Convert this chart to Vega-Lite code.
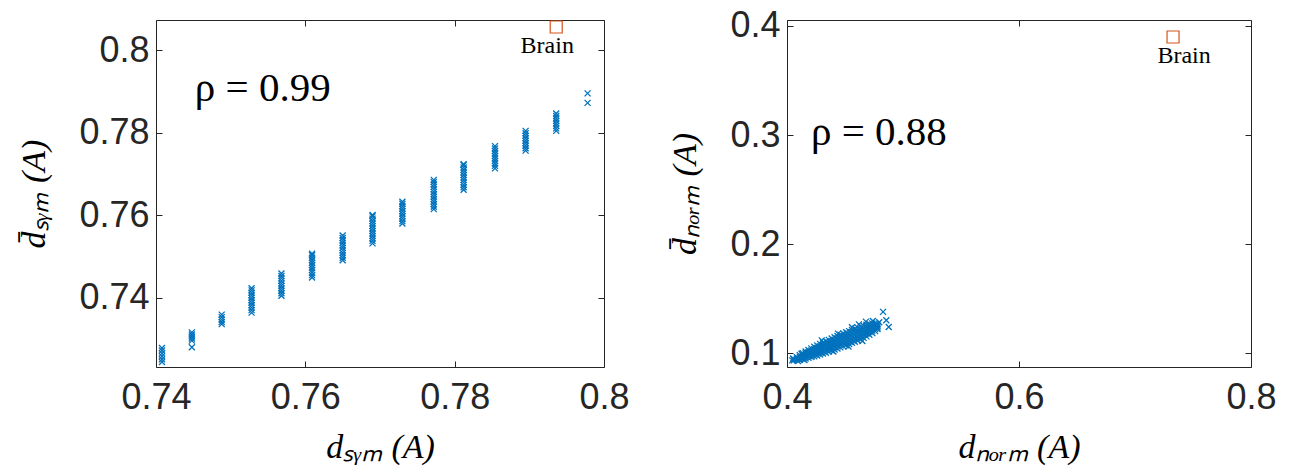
{
  "$schema": "https://vega.github.io/schema/vega-lite/v6.json",
  "autosize": {"type": "pad"},
  "padding": {"left": 17, "top": 7, "right": 0, "bottom": 0},
  "background": "white",
  "config": {
    "view": {"stroke": "#262626", "strokeWidth": 1},
    "axis": {
      "domain": false, "grid": false, "labelFlush": false, "labelOverlap": false,
      "tickColor": "#262626", "tickSize": -6, "tickWidth": 1,
      "labelFont": "Liberation Sans", "labelFontSize": 36, "labelColor": "#262626",
      "titleFont": "Liberation Serif", "titleFontStyle": "italic", "titleFontWeight": "normal",
      "titleFontSize": 34, "titleColor": "#000000"
    },
    "axisBottom": {"labelPadding": 19, "titlePadding": 15},
    "axisLeft": {"labelPadding": 13, "titlePadding": 27}
  },
  "datasets": {
    "leftPts": [
      {"x": 0.7408, "y": 0.7244}, {"x": 0.7408, "y": 0.7251}, {"x": 0.7408, "y": 0.7258}, {"x": 0.7408, "y": 0.7265}, {"x": 0.7408, "y": 0.7272}, {"x": 0.7408, "y": 0.7278},
      {"x": 0.7448, "y": 0.7280}, {"x": 0.7448, "y": 0.7296}, {"x": 0.7448, "y": 0.7301}, {"x": 0.7448, "y": 0.7306}, {"x": 0.7448, "y": 0.7311}, {"x": 0.7448, "y": 0.7316},
      {"x": 0.7488, "y": 0.7336}, {"x": 0.7488, "y": 0.7341}, {"x": 0.7488, "y": 0.7347}, {"x": 0.7488, "y": 0.7353}, {"x": 0.7488, "y": 0.7359},
      {"x": 0.7528, "y": 0.7364}, {"x": 0.7528, "y": 0.7370}, {"x": 0.7528, "y": 0.7376}, {"x": 0.7528, "y": 0.7382}, {"x": 0.7528, "y": 0.7388}, {"x": 0.7528, "y": 0.7394}, {"x": 0.7528, "y": 0.7400}, {"x": 0.7528, "y": 0.7406}, {"x": 0.7528, "y": 0.7412}, {"x": 0.7528, "y": 0.7418}, {"x": 0.7528, "y": 0.7423},
      {"x": 0.7568, "y": 0.7405}, {"x": 0.7568, "y": 0.7411}, {"x": 0.7568, "y": 0.7417}, {"x": 0.7568, "y": 0.7423}, {"x": 0.7568, "y": 0.7429}, {"x": 0.7568, "y": 0.7435}, {"x": 0.7568, "y": 0.7441}, {"x": 0.7568, "y": 0.7447}, {"x": 0.7568, "y": 0.7453}, {"x": 0.7568, "y": 0.7459},
      {"x": 0.7609, "y": 0.7449}, {"x": 0.7609, "y": 0.7455}, {"x": 0.7609, "y": 0.7461}, {"x": 0.7609, "y": 0.7467}, {"x": 0.7609, "y": 0.7473}, {"x": 0.7609, "y": 0.7479}, {"x": 0.7609, "y": 0.7485}, {"x": 0.7609, "y": 0.7491}, {"x": 0.7609, "y": 0.7497}, {"x": 0.7609, "y": 0.7503}, {"x": 0.7609, "y": 0.7507},
      {"x": 0.7650, "y": 0.7491}, {"x": 0.7650, "y": 0.7497}, {"x": 0.7650, "y": 0.7503}, {"x": 0.7650, "y": 0.7509}, {"x": 0.7650, "y": 0.7515}, {"x": 0.7650, "y": 0.7521}, {"x": 0.7650, "y": 0.7527}, {"x": 0.7650, "y": 0.7533}, {"x": 0.7650, "y": 0.7539}, {"x": 0.7650, "y": 0.7545}, {"x": 0.7650, "y": 0.7551},
      {"x": 0.7690, "y": 0.7532}, {"x": 0.7690, "y": 0.7538}, {"x": 0.7690, "y": 0.7544}, {"x": 0.7690, "y": 0.7550}, {"x": 0.7690, "y": 0.7556}, {"x": 0.7690, "y": 0.7562}, {"x": 0.7690, "y": 0.7568}, {"x": 0.7690, "y": 0.7574}, {"x": 0.7690, "y": 0.7580}, {"x": 0.7690, "y": 0.7586}, {"x": 0.7690, "y": 0.7592}, {"x": 0.7690, "y": 0.7598}, {"x": 0.7690, "y": 0.7601},
      {"x": 0.7730, "y": 0.7580}, {"x": 0.7730, "y": 0.7586}, {"x": 0.7730, "y": 0.7592}, {"x": 0.7730, "y": 0.7598}, {"x": 0.7730, "y": 0.7604}, {"x": 0.7730, "y": 0.7610}, {"x": 0.7730, "y": 0.7616}, {"x": 0.7730, "y": 0.7622}, {"x": 0.7730, "y": 0.7628}, {"x": 0.7730, "y": 0.7633},
      {"x": 0.7772, "y": 0.7615}, {"x": 0.7772, "y": 0.7621}, {"x": 0.7772, "y": 0.7627}, {"x": 0.7772, "y": 0.7633}, {"x": 0.7772, "y": 0.7639}, {"x": 0.7772, "y": 0.7645}, {"x": 0.7772, "y": 0.7651}, {"x": 0.7772, "y": 0.7657}, {"x": 0.7772, "y": 0.7663}, {"x": 0.7772, "y": 0.7669}, {"x": 0.7772, "y": 0.7675}, {"x": 0.7772, "y": 0.7681}, {"x": 0.7772, "y": 0.7686},
      {"x": 0.7812, "y": 0.7662}, {"x": 0.7812, "y": 0.7668}, {"x": 0.7812, "y": 0.7674}, {"x": 0.7812, "y": 0.7680}, {"x": 0.7812, "y": 0.7686}, {"x": 0.7812, "y": 0.7692}, {"x": 0.7812, "y": 0.7698}, {"x": 0.7812, "y": 0.7704}, {"x": 0.7812, "y": 0.7710}, {"x": 0.7812, "y": 0.7716}, {"x": 0.7812, "y": 0.7722}, {"x": 0.7812, "y": 0.7724},
      {"x": 0.7854, "y": 0.7714}, {"x": 0.7854, "y": 0.7720}, {"x": 0.7854, "y": 0.7726}, {"x": 0.7854, "y": 0.7732}, {"x": 0.7854, "y": 0.7738}, {"x": 0.7854, "y": 0.7744}, {"x": 0.7854, "y": 0.7750}, {"x": 0.7854, "y": 0.7756}, {"x": 0.7854, "y": 0.7762}, {"x": 0.7854, "y": 0.7768},
      {"x": 0.7895, "y": 0.7757}, {"x": 0.7895, "y": 0.7763}, {"x": 0.7895, "y": 0.7769}, {"x": 0.7895, "y": 0.7775}, {"x": 0.7895, "y": 0.7781}, {"x": 0.7895, "y": 0.7787}, {"x": 0.7895, "y": 0.7793}, {"x": 0.7895, "y": 0.7799}, {"x": 0.7895, "y": 0.7805},
      {"x": 0.7936, "y": 0.7805}, {"x": 0.7936, "y": 0.7811}, {"x": 0.7936, "y": 0.7817}, {"x": 0.7936, "y": 0.7823}, {"x": 0.7936, "y": 0.7829}, {"x": 0.7936, "y": 0.7835}, {"x": 0.7936, "y": 0.7841}, {"x": 0.7936, "y": 0.7847},
      {"x": 0.7978, "y": 0.7873}, {"x": 0.7978, "y": 0.7896}
    ],
    "leftBrain": [{"x": 0.7936, "y": 0.8057, "label": "Brain"}],
    "leftRho": [{"x": 0.7452, "y": 0.7877, "label": "ρ = 0.99"}],
    "rightPts": [
      {"x": 0.4045, "y": 0.0935}, {"x": 0.4052, "y": 0.0952}, {"x": 0.4095, "y": 0.0928}, {"x": 0.4125, "y": 0.0995}, {"x": 0.4150, "y": 0.0938},
      {"x": 0.406, "y": 0.0935}, {"x": 0.406, "y": 0.0945},
      {"x": 0.4085, "y": 0.0937}, {"x": 0.4085, "y": 0.0949}, {"x": 0.4085, "y": 0.0964},
      {"x": 0.411, "y": 0.0941}, {"x": 0.411, "y": 0.0955}, {"x": 0.411, "y": 0.0968}, {"x": 0.411, "y": 0.0983},
      {"x": 0.4135, "y": 0.0946}, {"x": 0.4135, "y": 0.0962}, {"x": 0.4135, "y": 0.0975}, {"x": 0.4135, "y": 0.0988}, {"x": 0.4135, "y": 0.1001},
      {"x": 0.416, "y": 0.0952}, {"x": 0.416, "y": 0.0969}, {"x": 0.416, "y": 0.0985}, {"x": 0.416, "y": 0.1001}, {"x": 0.416, "y": 0.1016},
      {"x": 0.4185, "y": 0.0958}, {"x": 0.4185, "y": 0.0976}, {"x": 0.4185, "y": 0.0995}, {"x": 0.4185, "y": 0.1012}, {"x": 0.4185, "y": 0.1030},
      {"x": 0.421, "y": 0.0965}, {"x": 0.421, "y": 0.0985}, {"x": 0.421, "y": 0.1004}, {"x": 0.421, "y": 0.1025}, {"x": 0.421, "y": 0.1045},
      {"x": 0.4235, "y": 0.0973}, {"x": 0.4235, "y": 0.0994}, {"x": 0.4235, "y": 0.1017}, {"x": 0.4235, "y": 0.1038}, {"x": 0.4235, "y": 0.1059},
      {"x": 0.426, "y": 0.0980}, {"x": 0.426, "y": 0.1003}, {"x": 0.426, "y": 0.1027}, {"x": 0.426, "y": 0.1049}, {"x": 0.426, "y": 0.1072},
      {"x": 0.4285, "y": 0.0988}, {"x": 0.4285, "y": 0.1012}, {"x": 0.4285, "y": 0.1037}, {"x": 0.4285, "y": 0.1062}, {"x": 0.4285, "y": 0.1086},
      {"x": 0.431, "y": 0.0997}, {"x": 0.431, "y": 0.1022}, {"x": 0.431, "y": 0.1049}, {"x": 0.431, "y": 0.1074}, {"x": 0.431, "y": 0.1099},
      {"x": 0.4335, "y": 0.1005}, {"x": 0.4335, "y": 0.1031}, {"x": 0.4335, "y": 0.1058}, {"x": 0.4335, "y": 0.1084}, {"x": 0.4335, "y": 0.1111},
      {"x": 0.436, "y": 0.1015}, {"x": 0.436, "y": 0.1042}, {"x": 0.436, "y": 0.1069}, {"x": 0.436, "y": 0.1096}, {"x": 0.436, "y": 0.1123},
      {"x": 0.4385, "y": 0.1025}, {"x": 0.4385, "y": 0.1052}, {"x": 0.4385, "y": 0.1081}, {"x": 0.4385, "y": 0.1108}, {"x": 0.4385, "y": 0.1135},
      {"x": 0.441, "y": 0.1034}, {"x": 0.441, "y": 0.1062}, {"x": 0.441, "y": 0.1091}, {"x": 0.441, "y": 0.1118}, {"x": 0.441, "y": 0.1146},
      {"x": 0.4435, "y": 0.1044}, {"x": 0.4435, "y": 0.1072}, {"x": 0.4435, "y": 0.1100}, {"x": 0.4435, "y": 0.1130}, {"x": 0.4435, "y": 0.1158},
      {"x": 0.446, "y": 0.1054}, {"x": 0.446, "y": 0.1083}, {"x": 0.446, "y": 0.1112}, {"x": 0.446, "y": 0.1141}, {"x": 0.446, "y": 0.1170},
      {"x": 0.4485, "y": 0.1063}, {"x": 0.4485, "y": 0.1093}, {"x": 0.4485, "y": 0.1123}, {"x": 0.4485, "y": 0.1151}, {"x": 0.4485, "y": 0.1181},
      {"x": 0.451, "y": 0.1074}, {"x": 0.451, "y": 0.1103}, {"x": 0.451, "y": 0.1133}, {"x": 0.451, "y": 0.1163}, {"x": 0.451, "y": 0.1192},
      {"x": 0.4535, "y": 0.1085}, {"x": 0.4535, "y": 0.1114}, {"x": 0.4535, "y": 0.1144}, {"x": 0.4535, "y": 0.1173}, {"x": 0.4535, "y": 0.1203},
      {"x": 0.456, "y": 0.1096}, {"x": 0.456, "y": 0.1125}, {"x": 0.456, "y": 0.1155}, {"x": 0.456, "y": 0.1185}, {"x": 0.456, "y": 0.1214},
      {"x": 0.4585, "y": 0.1106}, {"x": 0.4585, "y": 0.1136}, {"x": 0.4585, "y": 0.1166}, {"x": 0.4585, "y": 0.1195}, {"x": 0.4585, "y": 0.1224},
      {"x": 0.461, "y": 0.1117}, {"x": 0.461, "y": 0.1146}, {"x": 0.461, "y": 0.1176}, {"x": 0.461, "y": 0.1206}, {"x": 0.461, "y": 0.1235},
      {"x": 0.4635, "y": 0.1129}, {"x": 0.4635, "y": 0.1158}, {"x": 0.4635, "y": 0.1187}, {"x": 0.4635, "y": 0.1216}, {"x": 0.4635, "y": 0.1245},
      {"x": 0.466, "y": 0.1141}, {"x": 0.466, "y": 0.1169}, {"x": 0.466, "y": 0.1198}, {"x": 0.466, "y": 0.1225}, {"x": 0.466, "y": 0.1253},
      {"x": 0.4685, "y": 0.1155}, {"x": 0.4685, "y": 0.1181}, {"x": 0.4685, "y": 0.1208}, {"x": 0.4685, "y": 0.1235}, {"x": 0.4685, "y": 0.1261}, {"x": 0.468, "y": 0.1290},
      {"x": 0.471, "y": 0.1170}, {"x": 0.471, "y": 0.1194}, {"x": 0.471, "y": 0.1219}, {"x": 0.471, "y": 0.1244}, {"x": 0.471, "y": 0.1268},
      {"x": 0.4735, "y": 0.1186}, {"x": 0.4735, "y": 0.1208}, {"x": 0.4735, "y": 0.1230}, {"x": 0.4735, "y": 0.1252}, {"x": 0.4735, "y": 0.1274}, {"x": 0.474, "y": 0.1295},
      {"x": 0.476, "y": 0.1203}, {"x": 0.476, "y": 0.1222}, {"x": 0.476, "y": 0.1241}, {"x": 0.476, "y": 0.1260}, {"x": 0.476, "y": 0.1277},
      {"x": 0.478, "y": 0.1222}, {"x": 0.478, "y": 0.1236}, {"x": 0.478, "y": 0.1250}, {"x": 0.478, "y": 0.1264},
      {"x": 0.4795, "y": 0.1285}, {"x": 0.4828, "y": 0.1379}, {"x": 0.4856, "y": 0.1303}, {"x": 0.4877, "y": 0.1241},
      {"x": 0.4300, "y": 0.1118}, {"x": 0.4440, "y": 0.1180}, {"x": 0.4560, "y": 0.1238}, {"x": 0.4620, "y": 0.1265}, {"x": 0.4400, "y": 0.1016}, {"x": 0.4530, "y": 0.1062}, {"x": 0.4650, "y": 0.1112}
    ],
    "rightBrain": [{"x": 0.7328, "y": 0.3899, "label": "Brain"}],
    "rightRho": [{"x": 0.4207, "y": 0.2908, "label": "ρ = 0.88"}]
  },
  "hconcat": [
    {
      "width": 448, "height": 347,
      "resolve": {"axis": {"x": "independent", "y": "independent"}},
      "layer": [
        {
          "data": {"name": "leftPts"},
          "mark": {"type": "point", "shape": "M-1,-1L1,1M-1,1L1,-1", "size": 36, "filled": false, "color": "#0072BD", "strokeWidth": 1.3, "opacity": 1},
          "encoding": {
            "x": {"field": "x", "type": "quantitative", "scale": {"domain": [0.74, 0.8], "nice": false, "zero": false},
                  "axis": {"values": [0.74, 0.76, 0.78, 0.8], "format": ".2~f", "title": "dₛᵧₘ (A)"}},
            "y": {"field": "y", "type": "quantitative", "scale": {"domain": [0.7232, 0.8074], "nice": false, "zero": false},
                  "axis": {"values": [0.74, 0.76, 0.78, 0.8], "format": ".2~f", "title": "d̄ₛᵧₘ (A)"}}
          }
        },
        {
          "data": {"name": "leftBrain"},
          "mark": {"type": "point", "shape": "square", "size": 144, "filled": false, "color": "#D95319", "strokeWidth": 1.2, "opacity": 1},
          "encoding": {
            "x": {"field": "x", "type": "quantitative", "scale": {"domain": [0.74, 0.8], "nice": false, "zero": false}, "axis": null},
            "y": {"field": "y", "type": "quantitative", "scale": {"domain": [0.7232, 0.8074], "nice": false, "zero": false}, "axis": null}
          }
        },
        {
          "data": {"name": "leftBrain"},
          "mark": {"type": "text", "font": "Liberation Serif", "fontSize": 24, "color": "#000000", "align": "center", "baseline": "alphabetic", "dx": -9, "dy": 26},
          "encoding": {
            "x": {"field": "x", "type": "quantitative", "scale": {"domain": [0.74, 0.8], "nice": false, "zero": false}, "axis": null},
            "y": {"field": "y", "type": "quantitative", "scale": {"domain": [0.7232, 0.8074], "nice": false, "zero": false}, "axis": null},
            "text": {"field": "label"}
          }
        },
        {
          "data": {"name": "leftRho"},
          "mark": {"type": "text", "font": "Liberation Serif", "fontSize": 41, "color": "#000000", "align": "left", "baseline": "alphabetic"},
          "encoding": {
            "x": {"field": "x", "type": "quantitative", "scale": {"domain": [0.74, 0.8], "nice": false, "zero": false}, "axis": null},
            "y": {"field": "y", "type": "quantitative", "scale": {"domain": [0.7232, 0.8074], "nice": false, "zero": false}, "axis": null},
            "text": {"field": "label"}
          }
        },
        {
          "data": {"name": "leftBrain"},
          "mark": {"type": "point", "opacity": 0},
          "encoding": {
            "x": {"field": "x", "type": "quantitative", "scale": {"domain": [0.74, 0.8], "nice": false, "zero": false},
                  "axis": {"orient": "top", "values": [0.74, 0.76, 0.78, 0.8], "labels": false, "title": null}},
            "y": {"field": "y", "type": "quantitative", "scale": {"domain": [0.7232, 0.8074], "nice": false, "zero": false},
                  "axis": {"orient": "right", "values": [0.74, 0.76, 0.78, 0.8], "labels": false, "title": null}}
          }
        }
      ]
    },
    {
      "width": 464, "height": 347,
      "resolve": {"axis": {"x": "independent", "y": "independent"}},
      "layer": [
        {
          "data": {"name": "rightPts"},
          "mark": {"type": "point", "shape": "M-1,-1L1,1M-1,1L1,-1", "size": 36, "filled": false, "color": "#0072BD", "strokeWidth": 1.3, "opacity": 1},
          "encoding": {
            "x": {"field": "x", "type": "quantitative", "scale": {"domain": [0.4, 0.8], "nice": false, "zero": false},
                  "axis": {"values": [0.4, 0.6, 0.8], "format": ".1f", "title": "dₙₒᵣₘ (A)"}},
            "y": {"field": "y", "type": "quantitative", "scale": {"domain": [0.0874, 0.4055], "nice": false, "zero": false},
                  "axis": {"values": [0.1, 0.2, 0.3, 0.4], "format": ".1f", "title": "d̄ₙₒᵣₘ (A)"}}
          }
        },
        {
          "data": {"name": "rightBrain"},
          "mark": {"type": "point", "shape": "square", "size": 144, "filled": false, "color": "#D95319", "strokeWidth": 1.2, "opacity": 1},
          "encoding": {
            "x": {"field": "x", "type": "quantitative", "scale": {"domain": [0.4, 0.8], "nice": false, "zero": false}, "axis": null},
            "y": {"field": "y", "type": "quantitative", "scale": {"domain": [0.0874, 0.4055], "nice": false, "zero": false}, "axis": null}
          }
        },
        {
          "data": {"name": "rightBrain"},
          "mark": {"type": "text", "font": "Liberation Serif", "fontSize": 24, "color": "#000000", "align": "center", "baseline": "alphabetic", "dx": 11, "dy": 26},
          "encoding": {
            "x": {"field": "x", "type": "quantitative", "scale": {"domain": [0.4, 0.8], "nice": false, "zero": false}, "axis": null},
            "y": {"field": "y", "type": "quantitative", "scale": {"domain": [0.0874, 0.4055], "nice": false, "zero": false}, "axis": null},
            "text": {"field": "label"}
          }
        },
        {
          "data": {"name": "rightRho"},
          "mark": {"type": "text", "font": "Liberation Serif", "fontSize": 41, "color": "#000000", "align": "left", "baseline": "alphabetic"},
          "encoding": {
            "x": {"field": "x", "type": "quantitative", "scale": {"domain": [0.4, 0.8], "nice": false, "zero": false}, "axis": null},
            "y": {"field": "y", "type": "quantitative", "scale": {"domain": [0.0874, 0.4055], "nice": false, "zero": false}, "axis": null},
            "text": {"field": "label"}
          }
        },
        {
          "data": {"name": "rightBrain"},
          "mark": {"type": "point", "opacity": 0},
          "encoding": {
            "x": {"field": "x", "type": "quantitative", "scale": {"domain": [0.4, 0.8], "nice": false, "zero": false},
                  "axis": {"orient": "top", "values": [0.4, 0.6, 0.8], "labels": false, "title": null}},
            "y": {"field": "y", "type": "quantitative", "scale": {"domain": [0.0874, 0.4055], "nice": false, "zero": false},
                  "axis": {"orient": "right", "values": [0.1, 0.2, 0.3, 0.4], "labels": false, "title": null}}
          }
        }
      ]
    }
  ],
  "spacing": 183,
  "bounds": "flush"
}
